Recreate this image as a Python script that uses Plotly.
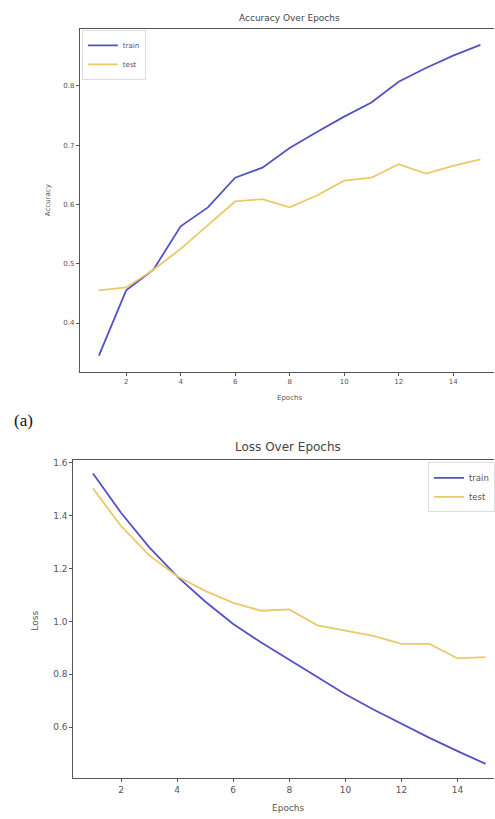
import plotly.graph_objects as go

epochs = list(range(1, 16))
train_acc = [0.345, 0.455, 0.49, 0.563, 0.595, 0.645, 0.662, 0.695, 0.722, 0.748, 0.772, 0.807, 0.83, 0.851, 0.869]
test_acc = [0.455, 0.46, 0.49, 0.525, 0.565, 0.605, 0.609, 0.595, 0.615, 0.64, 0.645, 0.668, 0.652, 0.665, 0.676]
train_loss = [1.558, 1.41, 1.28, 1.17, 1.075, 0.99, 0.92, 0.855, 0.79, 0.725, 0.667, 0.612, 0.56, 0.51, 0.462]
test_loss = [1.502, 1.36, 1.25, 1.17, 1.115, 1.07, 1.04, 1.045, 0.985, 0.965, 0.945, 0.915, 0.915, 0.86, 0.865]
acc_yticks = [0.4, 0.5, 0.6, 0.7, 0.8]
loss_yticks = [0.6, 0.8, 1.0, 1.2, 1.4, 1.6]
xticks = [2, 4, 6, 8, 10, 12, 14]

W, H = 495, 819
TRAIN_C = "#5252c4"
TEST_C = "#e9c96a"
TXT = "#555555"
FONT = "DejaVu Sans"

fig = go.Figure()
fig.add_trace(go.Scatter(x=epochs, y=train_acc, mode="lines", name="train",
                         line=dict(color=TRAIN_C, width=1.8), xaxis="x", yaxis="y", legend="legend"))
fig.add_trace(go.Scatter(x=epochs, y=test_acc, mode="lines", name="test",
                         line=dict(color=TEST_C, width=1.8), xaxis="x", yaxis="y", legend="legend"))
fig.add_trace(go.Scatter(x=epochs, y=train_loss, mode="lines", name="train",
                         line=dict(color=TRAIN_C, width=1.8), xaxis="x2", yaxis="y2", legend="legend2"))
fig.add_trace(go.Scatter(x=epochs, y=test_loss, mode="lines", name="test",
                         line=dict(color=TEST_C, width=1.8), xaxis="x2", yaxis="y2", legend="legend2"))

def py(p):
    return 1 - p / H

axcommon = dict(showgrid=False, zeroline=False, showline=True, linecolor="#555555", linewidth=1,
                ticks="outside", ticklen=3, tickcolor="#555555", tickwidth=1)

fig.update_layout(
    width=W, height=H,
    margin=dict(l=0, r=0, t=0, b=0),
    paper_bgcolor="white", plot_bgcolor="white",
    font=dict(family=FONT, color=TXT),
    xaxis=dict(domain=[80 / W, 1], range=[0.3, 15.5], tickvals=xticks, anchor="y", mirror=True,
               tickfont=dict(size=7, color=TXT), **axcommon),
    yaxis=dict(domain=[py(370), py(26)], range=[0.318, 0.896], tickvals=acc_yticks, anchor="x",
               tickformat=".1f", tickfont=dict(size=7, color=TXT), **axcommon),
    xaxis2=dict(domain=[73.5 / W, 1], range=[0.3, 15.3], tickvals=xticks, anchor="y2", mirror=True,
                tickfont=dict(size=9, color=TXT), **axcommon),
    yaxis2=dict(domain=[py(778), py(459)], range=[0.408, 1.608], tickvals=loss_yticks, anchor="x2",
                tickformat=".1f", tickfont=dict(size=9, color=TXT), **axcommon),
    legend=dict(x=82 / W, y=py(27), xanchor="left", yanchor="top", bgcolor="white",
                bordercolor="#dddddd", borderwidth=1, font=dict(size=7, color=TXT),
                itemwidth=30, tracegroupgap=0),
    legend2=dict(x=429 / W, y=py(461), xanchor="left", yanchor="top", bgcolor="white",
                 bordercolor="#dddddd", borderwidth=1, font=dict(size=8.5, color=TXT),
                 itemwidth=30, tracegroupgap=0),
    showlegend=True,
)

annotations = [
    dict(text="Accuracy Over Epochs", x=290 / W, y=py(15), font=dict(size=9, color="#444444")),
    dict(text="Epochs", x=290 / W, y=py(396), font=dict(size=7, color=TXT)),
    dict(text="Accuracy", x=48 / W, y=py(198), textangle=-90, font=dict(size=7, color=TXT)),
    dict(text="Loss Over Epochs", x=289 / W, y=py(446), font=dict(size=12, color="#444444")),
    dict(text="Epochs", x=289 / W, y=py(808), font=dict(size=9, color=TXT)),
    dict(text="Loss", x=35 / W, y=py(620), textangle=-90, font=dict(size=9, color=TXT)),
    dict(text="(a)", x=12 / W, y=py(419), xanchor="left",
         font=dict(size=17, color="#111111", family="Liberation Serif")),
]
for a in annotations:
    a.setdefault("xanchor", "center")
    fig.add_annotation(xref="paper", yref="paper", showarrow=False, yanchor="middle", **a)

fig.write_html("out.html")
